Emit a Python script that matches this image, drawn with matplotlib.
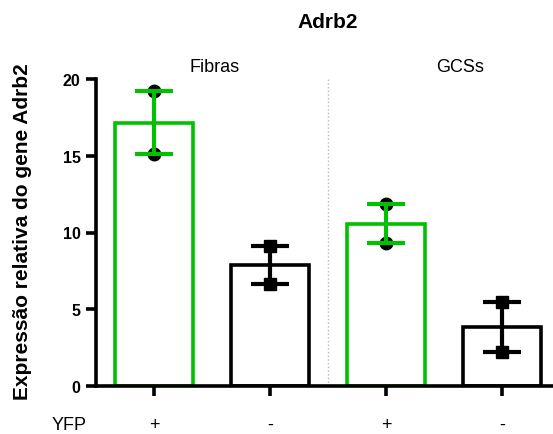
import matplotlib.pyplot as plt
import numpy as np

plt.rcParams['font.family'] = ['Liberation Sans', 'DejaVu Sans']

# data
yfp_labels = ["+", "-", "+", "-"]
groups = ["Fibras", "GCSs"]
points = [[19.2, 15.1], [9.1, 6.65], [11.85, 9.3], [5.45, 2.2]]
bar_colors = ["#00c000", "black", "#00c000", "black"]
point_markers = ["o", "s", "o", "s"]

means = [np.mean(p) for p in points]
x = np.arange(len(points))

fig = plt.figure(figsize=(5.53, 4.35), dpi=100)
ax = fig.add_axes([96 / 553, 48 / 435, 457 / 553, 307 / 435])

for i, (m, pts, c, mk) in enumerate(zip(means, points, bar_colors, point_markers)):
    ax.bar(x[i], m, width=0.67, facecolor="white", edgecolor=c, linewidth=2.6, zorder=2)
    ax.plot([x[i]] * len(pts), pts, linestyle="none", marker=mk, color="black",
            markersize=9, zorder=3, clip_on=False)
    lo, hi = min(pts), max(pts)
    ax.errorbar(x[i], m, yerr=[[m - lo], [hi - m]], fmt="none", ecolor=c,
                elinewidth=3, capsize=13.5, capthick=3, zorder=4, clip_on=False)

ax.axvline(1.5, ymin=0, ymax=1, color="#bbbbbb", linestyle=":", linewidth=1, zorder=1)

ax.set_xlim(-0.5, 3.44)
ax.set_ylim(0, 20)
ax.set_yticks([0, 5, 10, 15, 20])
ax.set_xticks(x)
ax.set_xticklabels([])
for s in ["top", "right"]:
    ax.spines[s].set_visible(False)
for s in ["left", "bottom"]:
    ax.spines[s].set_linewidth(2.6)
ax.tick_params(axis="both", length=7, width=2.6, direction="out")
ax.tick_params(axis="y", labelsize=11.5, pad=4)
for lab in ax.get_yticklabels():
    lab.set_fontweight("bold")

# x labels row
for i, lab in enumerate(yfp_labels):
    ax.text(x[i], -2.5, lab, ha="center", va="center", fontsize=13)
ax.text(-0.73, -2.5, "YFP", ha="center", va="center", fontsize=13, clip_on=False)

# group labels
ax.text(0.52, 20.8, groups[0], ha="center", va="center", fontsize=13)
ax.text(2.64, 20.8, groups[1], ha="center", va="center", fontsize=13)

fig.text(327.5 / 553, 1 - 22 / 435, "Adrb2", ha="center", va="center",
         fontsize=15, fontweight="bold")
fig.text(23 / 553, 1 - 232 / 435, "Expressão relativa do gene Adrb2", rotation=90,
         ha="center", va="center", fontsize=15, fontweight="bold")

fig.savefig("out.png", dpi=100)
